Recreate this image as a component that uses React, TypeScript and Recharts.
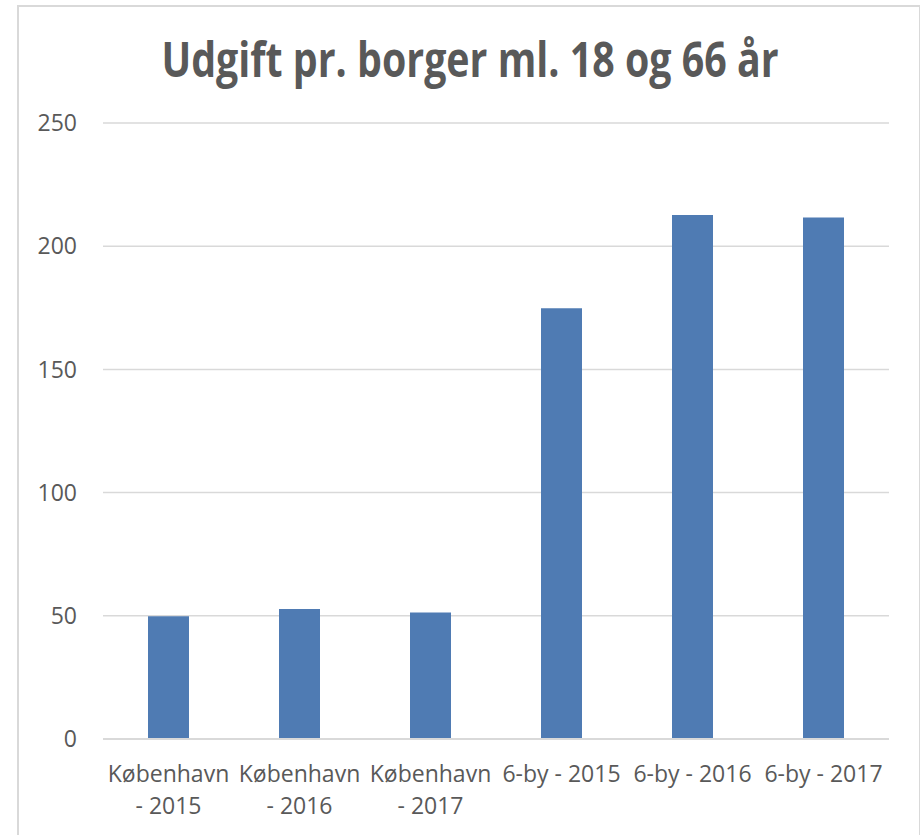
import { Bar, BarChart, CartesianGrid, XAxis, YAxis } from 'recharts'

const categories = [
  'København - 2015',
  'København - 2016',
  'København - 2017',
  '6-by - 2015',
  '6-by - 2016',
  '6-by - 2017',
]
const expense = [49.8, 52.8, 51.3, 174.8, 212.7, 211.6]
const yTicks = [0, 50, 100, 150, 200, 250]

const data = categories.map((name, i) => ({ name, value: expense[i] }))

const grey = '#595959'
const font = "'Open Sans', sans-serif"

// long labels wrap before the " - year" part, like the original
const CategoryTick = (props: any) => {
  const { x, y, payload } = props
  const label: string = payload.value
  const lines = label.length > 12 ? [label.slice(0, label.indexOf(' - ')), label.slice(label.indexOf(' - ') + 1)] : [label]
  return (
    <text x={x} y={y} textAnchor="middle" fill={grey} fontSize={23} fontFamily={font}>
      {lines.map((l, i) => (
        <tspan key={i} x={x} dy={i === 0 ? 43 : 31.5}>
          {l}
        </tspan>
      ))}
    </text>
  )
}

export default function App() {
  return (
    <div style={{ position: 'absolute', left: 0, top: 0, width: 921, height: 835, background: '#fff', overflow: 'hidden' }}>
      <div
        style={{
          position: 'absolute',
          left: 17,
          top: 5,
          width: 900,
          height: 860,
          borderLeft: '2px solid #d9d9d9',
          borderTop: '2px solid #d9d9d9',
          borderRight: '1px solid #d9d9d9',
        }}
      />
      <svg width={921} height={100} style={{ position: 'absolute', left: 0, top: 0 }}>
        <text
          x={470}
          y={77}
          textAnchor="middle"
          fill={grey}
          fontSize={48}
          fontWeight="bold"
          fontFamily="'Liberation Sans Narrow', 'Open Sans', sans-serif"
          textLength={617}
          lengthAdjust="spacingAndGlyphs"
        >
          Udgift pr. borger ml. 18 og 66 år
        </text>
      </svg>
      <div style={{ position: 'absolute', left: 0, top: 0 }}>
        <BarChart width={921} height={835} data={data} margin={{ top: 123, right: 32, left: 43, bottom: 0 }}>
          <CartesianGrid vertical={false} stroke="#d9d9d9" strokeWidth={1.5} />
          <XAxis
            dataKey="name"
            height={96}
            tickSize={0}
            tickMargin={0}
            axisLine={{ stroke: '#d9d9d9', strokeWidth: 2 }}
            tickLine={false}
            interval={0}
            tick={<CategoryTick />}
          />
          <YAxis
            domain={[0, 250]}
            ticks={yTicks}
            width={60}
            tickSize={0}
            tickMargin={26}
            axisLine={false}
            tickLine={false}
            tick={{ fill: grey, fontSize: 23, fontFamily: font }}
          />
          <Bar dataKey="value" fill="#4f7bb3" barSize={41} isAnimationActive={false} />
        </BarChart>
      </div>
    </div>
  )
}
